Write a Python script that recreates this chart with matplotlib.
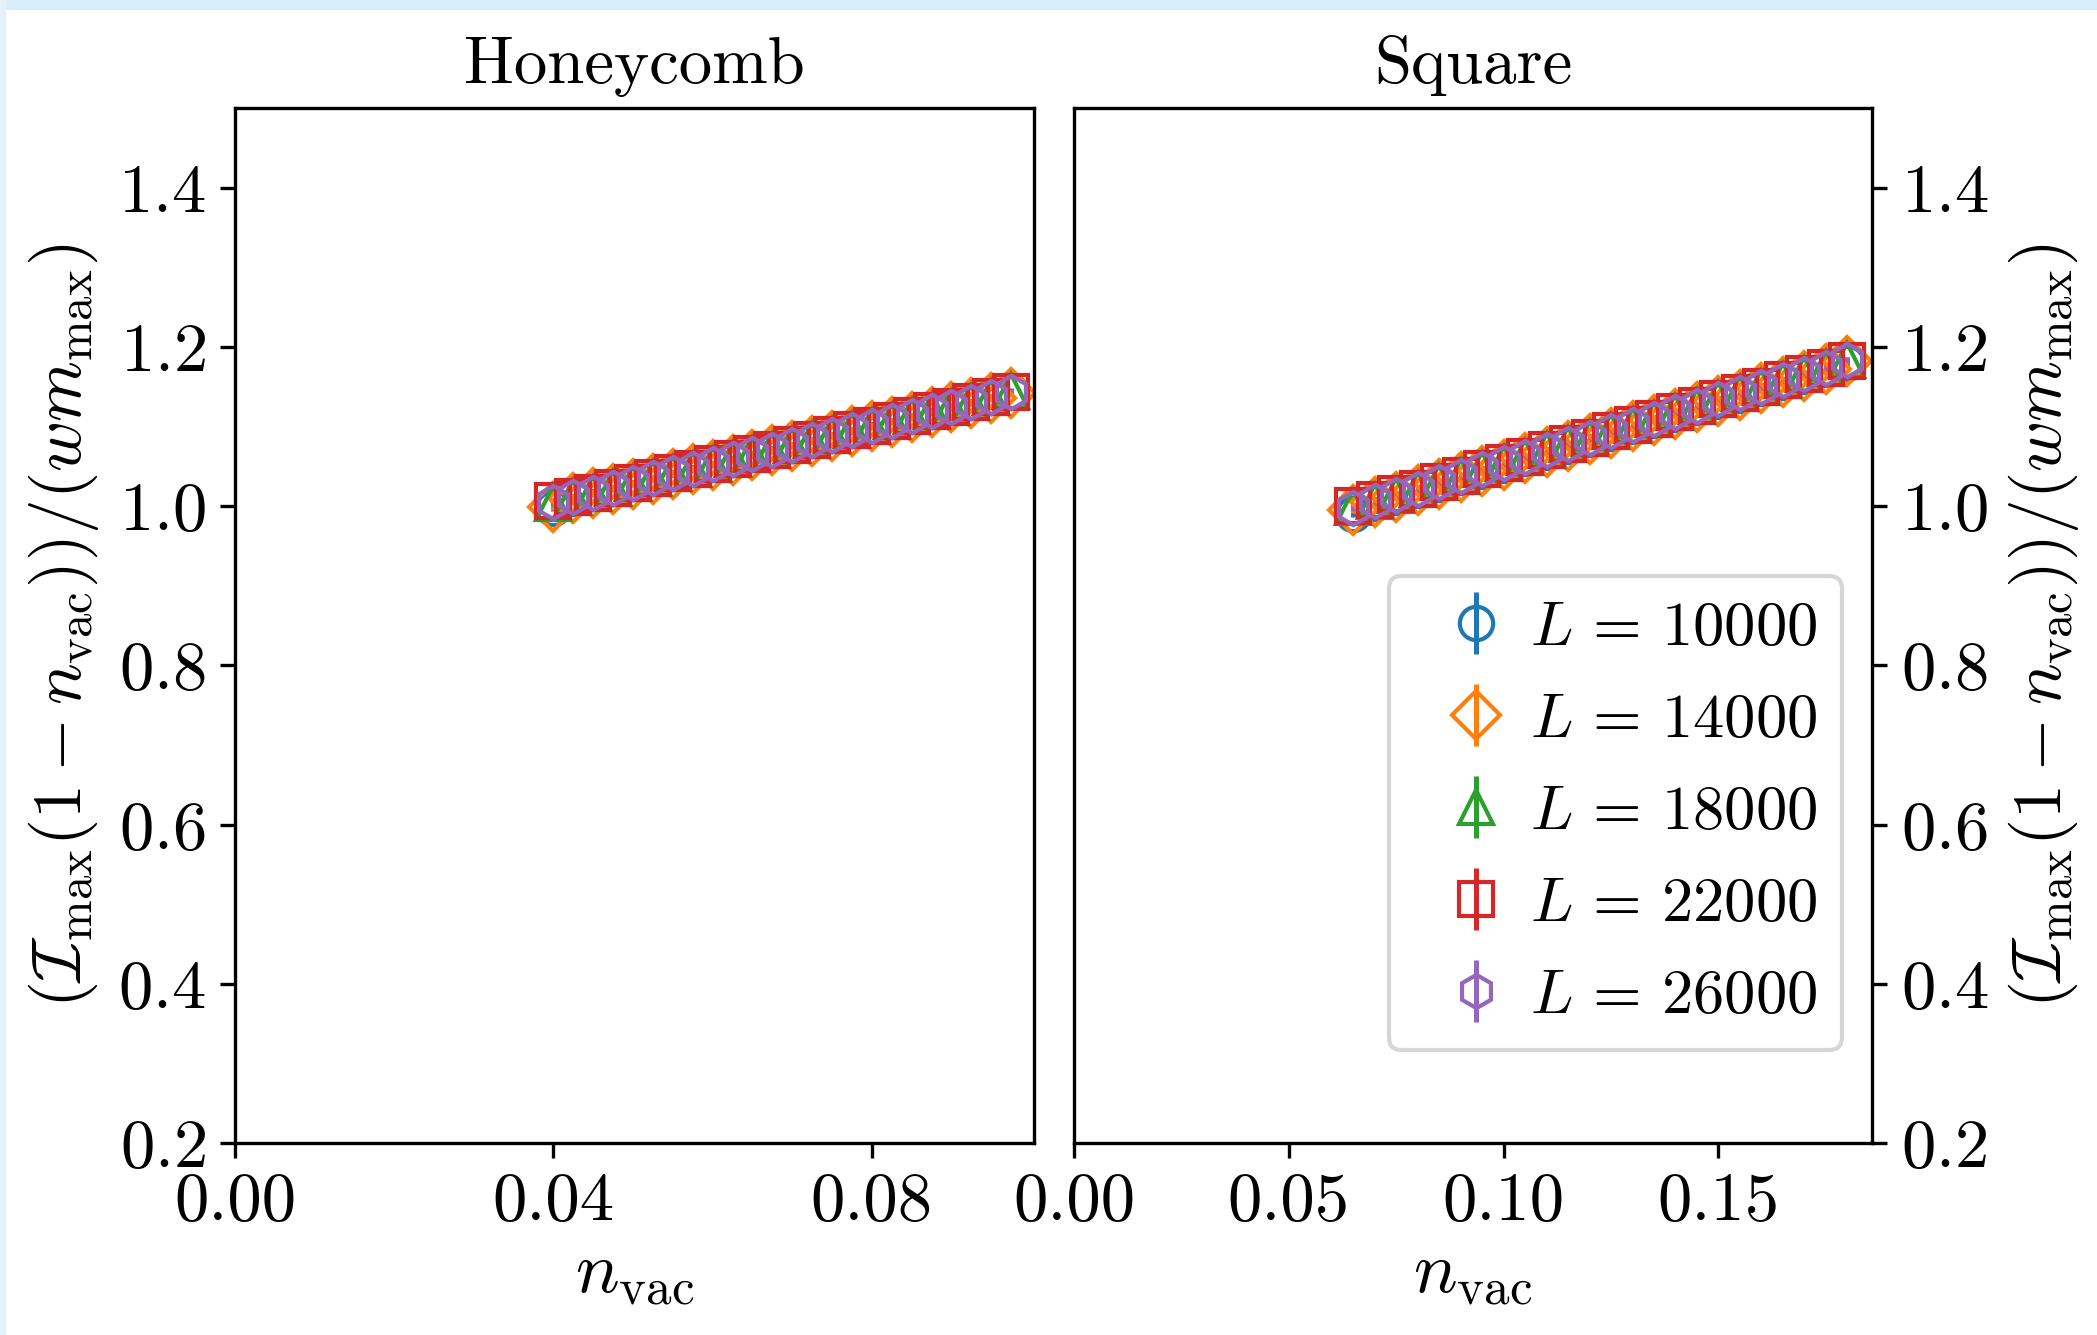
import matplotlib
matplotlib.use("Agg")
import matplotlib.pyplot as plt
from matplotlib.patches import Rectangle

plt.rcParams['font.family'] = 'serif'
plt.rcParams['font.serif'] = ['cmr10']
plt.rcParams['mathtext.fontset'] = 'cm'
plt.rcParams['axes.formatter.use_mathtext'] = True

# system sizes and markers
sizes = [10000, 14000, 18000, 22000, 26000]
markers = ['o', 'D', '^', 's', 'h']
colors = ['#1f77b4', '#ff7f0e', '#2ca02c', '#d62728', '#9467bd']

# Honeycomb lattice
n_honey = [0.0400, 0.0425, 0.0450, 0.0475, 0.0500, 0.0525, 0.0550, 0.0575,
           0.0600, 0.0625, 0.0650, 0.0675, 0.0700, 0.0725, 0.0750, 0.0775,
           0.0800, 0.0825, 0.0850, 0.0875, 0.0900, 0.0925, 0.0950, 0.0975]
y_honey = {
    10000: [0.998, 1.010, 1.017, 1.023, 1.029, 1.035, 1.041, 1.047, 1.053, 1.059, 1.065, 1.071,
            1.077, 1.083, 1.089, 1.095, 1.101, 1.107, 1.113, 1.119, 1.125, 1.131, 1.137, 1.143],
    14000: [0.999, 1.010, 1.016, 1.022, 1.028, 1.034, 1.040, 1.046, 1.052, 1.058, 1.064, 1.070,
            1.076, 1.082, 1.088, 1.094, 1.100, 1.106, 1.112, 1.118, 1.124, 1.130, 1.136, 1.142],
    18000: [1.004, 1.011, 1.017, 1.023, 1.029, 1.035, 1.041, 1.047, 1.053, 1.059, 1.065, 1.071,
            1.077, 1.083, 1.089, 1.095, 1.101, 1.107, 1.113, 1.119, 1.125, 1.131, 1.137, 1.144],
    22000: [1.006, 1.011, 1.017, 1.023, 1.029, 1.035, 1.041, 1.047, 1.053, 1.059, 1.065, 1.071,
            1.077, 1.083, 1.089, 1.095, 1.101, 1.107, 1.113, 1.119, 1.125, 1.131, 1.137, 1.143],
    26000: [1.005, 1.011, 1.017, 1.023, 1.029, 1.035, 1.041, 1.047, 1.053, 1.059, 1.065, 1.071,
            1.077, 1.083, 1.089, 1.095, 1.101, 1.107, 1.113, 1.119, 1.125, 1.131, 1.137, 1.143],
}

# Square lattice
n_square = [0.065, 0.070, 0.075, 0.080, 0.085, 0.090, 0.095, 0.100,
            0.105, 0.110, 0.115, 0.120, 0.125, 0.130, 0.135, 0.140,
            0.145, 0.150, 0.155, 0.160, 0.165, 0.170, 0.175, 0.180]
y_square = {
    10000: [0.990, 1.004, 1.012, 1.020, 1.028, 1.036, 1.044, 1.052, 1.060, 1.068, 1.076, 1.084,
            1.092, 1.100, 1.108, 1.116, 1.124, 1.132, 1.140, 1.148, 1.156, 1.164, 1.172, 1.180],
    14000: [0.995, 1.005, 1.012, 1.020, 1.028, 1.036, 1.044, 1.052, 1.060, 1.068, 1.076, 1.084,
            1.092, 1.100, 1.108, 1.116, 1.124, 1.132, 1.140, 1.148, 1.156, 1.164, 1.172, 1.182],
    18000: [0.999, 1.007, 1.014, 1.022, 1.030, 1.038, 1.046, 1.054, 1.062, 1.070, 1.078, 1.086,
            1.094, 1.102, 1.110, 1.118, 1.126, 1.134, 1.142, 1.150, 1.158, 1.166, 1.174, 1.183],
    22000: [1.000, 1.008, 1.015, 1.022, 1.030, 1.038, 1.046, 1.054, 1.062, 1.070, 1.078, 1.086,
            1.094, 1.102, 1.110, 1.118, 1.126, 1.134, 1.142, 1.150, 1.158, 1.166, 1.174, 1.182],
    26000: [0.998, 1.007, 1.014, 1.022, 1.030, 1.038, 1.046, 1.054, 1.062, 1.070, 1.078, 1.086,
            1.094, 1.102, 1.110, 1.118, 1.126, 1.134, 1.142, 1.150, 1.158, 1.166, 1.174, 1.183],
}
y_err = 0.004

fig = plt.figure(figsize=(2097 / 300, 1335 / 300), dpi=300)
ax1 = fig.add_axes([0.1121, 0.1438, 0.3810, 0.7753])
ax2 = fig.add_axes([0.5122, 0.1438, 0.3805, 0.7753])

# screenshot border strips
fig.patches.append(Rectangle((0, 1 - 8 / 1335), 1, 8 / 1335, transform=fig.transFigure,
                             color='#d8effb', zorder=0))
fig.patches.append(Rectangle((0, 0), 4 / 2097, 1, transform=fig.transFigure,
                             color='#e6f2fa', zorder=0))

for ax, n, ydata in [(ax1, n_honey, y_honey), (ax2, n_square, y_square)]:
    for L, m, c in zip(sizes, markers, colors):
        ax.errorbar(n, ydata[L], yerr=y_err, fmt=m, color=c, mfc='none', ms=8,
                    mew=1.0, elinewidth=1.2, label=r'$L \,=\, %d$' % L)
    ax.set_ylim(0.2, 1.5)
    ax.set_xlim(left=0)
    ax.set_yticks([0.2, 0.4, 0.6, 0.8, 1.0, 1.2, 1.4])
    ax.tick_params(labelsize=16.5)
    ax.set_xlabel(r'$n_{\rm vac}$', fontsize=17.5, labelpad=2)
    ax.set_ylabel(r'$(\mathcal{I}_{\max}(1-n_{\rm vac}))/(w m_{\max})$', fontsize=16.7)

ax1.set_xticks([0.0, 0.04, 0.08])
ax1.set_xticklabels(['0.00', '0.04', '0.08'])
ax1.set_title('Honeycomb', fontsize=16)

ax2.set_xticks([0.0, 0.05, 0.10, 0.15])
ax2.set_xticklabels(['0.00', '0.05', '0.10', '0.15'])
ax2.set_title('Square', fontsize=16)
ax2.yaxis.tick_right()
ax2.yaxis.set_label_position('right')
ax2.legend(loc='lower right', bbox_to_anchor=(0.962, 0.09), borderaxespad=0,
           fontsize=15, framealpha=0.8, handletextpad=-0.15, labelspacing=0.58)

fig.savefig('out.png', dpi=300)
